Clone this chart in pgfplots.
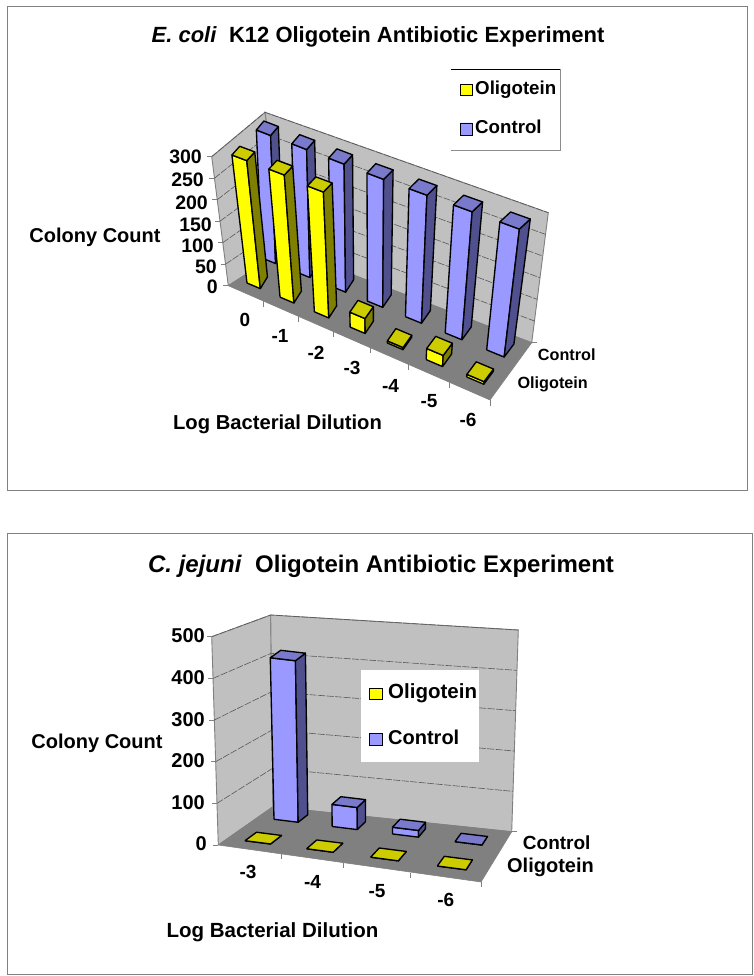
\documentclass[border=0pt]{standalone}
\usepackage{pgfplots}
\pgfplotsset{compat=1.18}
\usepackage{fontspec}
\setmainfont{Liberation Sans}
\definecolor{yF}{HTML}{FFFF00}\definecolor{yS}{HTML}{808000}\definecolor{yT}{HTML}{CCCC00}
\definecolor{bF}{HTML}{9999FF}\definecolor{bS}{HTML}{50508F}\definecolor{bT}{HTML}{7A7ACC}
\definecolor{wall}{HTML}{C0C0C0}\definecolor{flr}{HTML}{808080}
% projection of (u,v,h) to picture coordinates
\newcommand\proj[3]{%
 \pgfmathsetmacro\wq{1+\Pp*(#1)+\Qq*(#2)}%
 \pgfmathsetmacro\fx{(\Ax*(#1)+\Bx*(#2)+\Dx)/\wq}%
 \pgfmathsetmacro\fy{(\Ay*(#1)+\By*(#2)+\Dy)/\wq}%
 \pgfmathsetmacro\kq{(\fx<\Vx && (#2)>0.5) ? \Kb : \Kk}%
 \pgfmathsetmacro\rx{\fx+\kq*(\fx-\Vx)*(#3)}%
 \pgfmathsetmacro\ry{\fy-\Hh*(#3)}}
\newcommand\face[9]{%
 \edef\tmp{\noexpand\addplot[fill=#1,draw=black,line width=1.35pt,line join=round] coordinates {(#2,#3)(#4,#5)(#6,#7)(#8,#9)(#2,#3)};}\tmp}
% \cuboid{category index}{series 0/1}{value}{front}{side}{top}
\newcommand\cuboid[6]{%
 \pgfmathsetmacro\ua{(#1)/\Nn}\pgfmathsetmacro\ub{\ua+\Du}%
 \pgfmathsetmacro\va{#2}\pgfmathsetmacro\vb{\va+\Dv}%
 \pgfmathsetmacro\hh{(#3)/\Zm}%
 \proj{\ua}{\va}{0}\let\ax\rx\let\ay\ry
 \proj{\ub}{\va}{0}\let\bx\rx\let\by\ry
 \proj{\ub}{\vb}{0}\let\cx\rx\let\cy\ry
 \proj{\ua}{\va}{\hh}\let\dx\rx\let\dy\ry
 \proj{\ub}{\va}{\hh}\let\ex\rx\let\ey\ry
 \proj{\ub}{\vb}{\hh}\pgfmathsetmacro\gy{\ry+\Tc*\hh}\let\gx\rx
 \proj{\ua}{\vb}{\hh}\pgfmathsetmacro\iy{\ry+\Tc*\hh}\let\ix\rx
 \face{#4}{\ax}{\ay}{\bx}{\by}{\ex}{\ey}{\dx}{\dy}%
 \face{#5}{\bx}{\by}{\cx}{\cy}{\gx}{\gy}{\ex}{\ey}%
 \face{#6}{\dx}{\dy}{\ex}{\ey}{\gx}{\gy}{\ix}{\iy}}
% gridline k/n across the two walls
\newcommand\gridl[3]{%
 \pgfmathsetmacro\gt{(#1)/(#2)}%
 \pgfmathsetmacro\xa{\FBx+(\FTx-\FBx)*\gt}\pgfmathsetmacro\ya{\FBy+(\FTy-\FBy)*\gt}%
 \pgfmathsetmacro\xb{\LBx+(\LTx-\LBx)*\gt}\pgfmathsetmacro\yb{\LBy+(\LTy-\LBy)*\gt}%
 \pgfmathsetmacro\xc{\RBx+(\RTx-\RBx)*\gt}\pgfmathsetmacro\yc{\RBy+(\RTy-\RBy)*\gt}%
 \edef\tmp{\noexpand\addplot[draw=black!65,line width=0.6pt,dash pattern=on 7pt off 1.5pt] coordinates {(\xa,\ya)(\xb,\yb)(\xc,\yc)};}\tmp
 \edef\tmp{\noexpand\draw[flr,line width=0.8pt] (axis cs:\xa,\ya) -- (axis cs:\xa-5,\ya);}\tmp}
\newcommand\walls[1]{%
 \addplot[fill=wall,draw=flr,line width=0.9pt] coordinates {(\FBx,\FBy)(\FTx,\FTy)(\LTx,\LTy)(\LBx,\LBy)(\FBx,\FBy)};
 \addplot[fill=wall,draw=flr,line width=0.9pt] coordinates {(\LBx,\LBy)(\LTx,\LTy)(\RTx,\RTy)(\RBx,\RBy)(\LBx,\LBy)};
 \addplot[fill=flr,draw=flr,line width=0.6pt] coordinates {(\FBx,\FBy)(\LBx,\LBy)(\RBx,\RBy)(\CBx,\CBy)(\FBx,\FBy)};
 \draw[flr,line width=0.8pt] (axis cs:\FBx,\FBy) -- (axis cs:\FBx-5,\FBy);}
\newcommand\keybox[5]{%
 \addplot[fill=#1,draw=black,line width=0.9pt] coordinates {(#2,#3)(#4,#3)(#4,#5)(#2,#5)(#2,#3)};}
\newcommand\tk[3]{\node[font=\bfseries\fontsize{#3}{#3}\selectfont,inner sep=0pt] at (axis cs:#1) {#2};}
\newcommand\tr[3]{\node[font=\bfseries\fontsize{#3}{#3}\selectfont,inner sep=0pt,anchor=east] at (axis cs:#1) {#2};}
\pgfplotsset{panel/.style={hide axis,scale only axis,width=754pt,xmin=0,xmax=754,y dir=reverse,clip=false,enlargelimits=false}}
\begin{document}
\begin{tikzpicture}[x=1pt,y=1pt]
\path[use as bounding box] (0pt,0pt) rectangle (754pt,976pt);
%%%%% upper chart
\begin{axis}[panel,at={(0pt,476pt)},anchor=south west,height=500pt,ymin=0,ymax=500]
\draw[flr,line width=1pt] (axis cs:7.7,7) rectangle (axis cs:747.6,491);
\def\FBx{228.3}\def\FBy{285.7}\def\FTx{211.7}\def\FTy{156.7}
\def\LBx{285}\def\LBy{249}\def\LTx{265}\def\LTy{112.3}
\def\RBx{531.7}\def\RBy{342.7}\def\RTx{548.3}\def\RTy{212.7}
\def\CBx{490}\def\CBy{400}
\walls{}
\pgfplotsinvokeforeach{1,...,6}{\gridl{#1}{6}{}}
\pgfplotsforeachungrouped \tx/\ty in {263/301,298/316,333/331,370/347.5,408/364,449/382,490/400}{%
 \edef\tmp{\noexpand\draw[flr,line width=0.8pt] (axis cs:\tx,\ty) -- (axis cs:\tx,\ty+6);}\tmp}
\draw[flr,line width=0.8pt] (axis cs:531.7,342.7) -- (axis cs:537,342.7);
\def\Pp{-0.115}\def\Qq{-0.012}\def\Ax{166.03}\def\Ay{50.6}\def\Bx{11.86}\def\By{-28.1}\def\Dx{247}\def\Dy{283}
\def\Kk{0.118}\def\Kb{0.05}\def\Vx{375}\def\Hh{128}\def\Zm{300}\def\Nn{6}\def\Du{0.068}\def\Dv{0.47}\def\Tc{3}
% Control
\cuboid{0}{1}{300}{bF}{bS}{bT}
\cuboid{1}{1}{300}{bF}{bS}{bT}
\cuboid{2}{1}{300}{bF}{bS}{bT}
\cuboid{3}{1}{300}{bF}{bS}{bT}
\cuboid{4}{1}{300}{bF}{bS}{bT}
\cuboid{5}{1}{300}{bF}{bS}{bT}
\cuboid{6}{1}{300}{bF}{bS}{bT}
% Oligotein
\cuboid{0}{0}{300}{yF}{yS}{yT}
\cuboid{1}{0}{300}{yF}{yS}{yT}
\cuboid{2}{0}{295}{yF}{yS}{yT}
\cuboid{3}{0}{35}{yF}{yS}{yT}
\cuboid{4}{0}{5}{yF}{yS}{yT}
\cuboid{5}{0}{26}{yF}{yS}{yT}
\cuboid{6}{0}{6}{yF}{yS}{yT}
% labels
\node[font=\bfseries\fontsize{22}{22}\selectfont,inner sep=0pt] at (axis cs:378,37) {\textit{E. coli}\ \ K12 Oligotein Antibiotic Experiment};
\tr{202,157}{300}{19.5}\tr{204,180}{250}{19.5}\tr{208,203}{200}{19.5}\tr{212,225}{150}{19.5}\tr{214,246}{100}{19.5}\tr{217,267}{50}{19.5}\tr{218,287}{0}{19.5}
\tk{95,237}{Colony Count}{20}
\tk{245,320}{0}{19}\tk{280,336}{-1}{19}\tk{316,352.5}{-2}{19}\tk{352,368}{-3}{19}\tk{390.5,385.5}{-4}{19}\tk{429,401}{-5}{19}\tk{468,420}{-6}{19}
\tk{566.7,355}{Control}{16.2}\tk{552.7,384.5}{Oligotein}{16.2}
\tk{277.5,424}{Log Bacterial Dilution}{20.2}
\fill[white] (axis cs:451,69) rectangle (axis cs:560.6,150);
\draw[black,line width=0.8pt] (axis cs:451,69) -- (axis cs:560.6,69);
\draw[black!45,line width=0.7pt] (axis cs:560.6,69) -- (axis cs:560.6,150) -- (axis cs:451,150);
\keybox{yF}{460.6}{84}{472}{95}
\keybox{bF}{460.6}{123}{472}{135}
\node[font=\bfseries\fontsize{18.7}{18.7}\selectfont,inner sep=0pt,anchor=west] at (axis cs:475,90) {Oligotein};
\node[font=\bfseries\fontsize{18.7}{18.7}\selectfont,inner sep=0pt,anchor=west] at (axis cs:475,127) {Control};
\end{axis}
%%%%% lower chart
\begin{axis}[panel,at={(0pt,0pt)},anchor=south west,height=476pt,ymin=500,ymax=976]
\draw[flr,line width=1pt] (axis cs:7.7,534) rectangle (axis cs:752,974);
\def\FBx{218.3}\def\FBy{845}\def\FTx{211.7}\def\FTy{636.7}
\def\LBx{273}\def\LBy{806.7}\def\LTx{270.7}\def\LTy{615}
\def\RBx{511.7}\def\RBy{831.7}\def\RTx{518.3}\def\RTy{630}
\def\CBx{481}\def\CBy{882}
\walls{}
\pgfplotsinvokeforeach{1,...,5}{\gridl{#1}{5}{}}
\pgfplotsforeachungrouped \tx/\ty in {281/854,343/863,410.6/872.5,481/882}{%
 \edef\tmp{\noexpand\draw[flr,line width=0.8pt] (axis cs:\tx,\ty) -- (axis cs:\tx,\ty+5);}\tmp}
\draw[flr,line width=0.8pt] (axis cs:511.7,831.7) -- (axis cs:517,831.7);
\def\Pp{-0.0567}\def\Qq{0.068}\def\Ax{167.5}\def\Ay{-23.8}\def\Bx{47.63}\def\By{34.3}\def\Dx{245}\def\Dy{840.7}
\def\Kk{0.05}\def\Kb{0.05}\def\Vx{365}\def\Hh{197}\def\Zm{500}\def\Nn{3}\def\Du{0.14}\def\Dv{0.38}\def\Tc{0}
\cuboid{0}{1}{410}{bF}{bS}{bT}
\cuboid{1}{1}{56}{bF}{bS}{bT}
\cuboid{2}{1}{17}{bF}{bS}{bT}
\cuboid{3}{1}{0}{bF}{bS}{bT}
\cuboid{0}{0}{0}{yF}{yS}{yT}
\cuboid{1}{0}{0}{yF}{yS}{yT}
\cuboid{2}{0}{0}{yF}{yS}{yT}
\cuboid{3}{0}{0}{yF}{yS}{yT}
\node[font=\bfseries\fontsize{24}{24}\selectfont,inner sep=0pt] at (axis cs:381,566) {\textit{C. jejuni}\ \ Oligotein Antibiotic Experiment};
\tr{205,636}{500}{20}\tr{205,678}{400}{20}\tr{205,720}{300}{20}\tr{205,761}{200}{20}\tr{205,803}{100}{20}\tr{207,844}{0}{20}
\tk{97,743}{Colony Count}{20}
\tk{248,872}{-3}{19}\tk{312.5,882}{-4}{19}\tk{377,891}{-5}{19}\tk{445.7,900}{-6}{19}
\tk{556.7,843}{Control}{19}\tk{550.5,867.5}{Oligotein}{20}
\tk{272.5,932}{Log Bacterial Dilution}{20.5}
\fill[white] (axis cs:361,670) rectangle (axis cs:479.3,762);
\keybox{yF}{369.3}{688}{382.7}{699}
\keybox{bF}{369.3}{733}{382.7}{745}
\node[font=\bfseries\fontsize{20.5}{20.5}\selectfont,inner sep=0pt,anchor=west] at (axis cs:388,693) {Oligotein};
\node[font=\bfseries\fontsize{20}{20}\selectfont,inner sep=0pt,anchor=west] at (axis cs:388,737) {Control};
\end{axis}
\end{tikzpicture}
\end{document}
